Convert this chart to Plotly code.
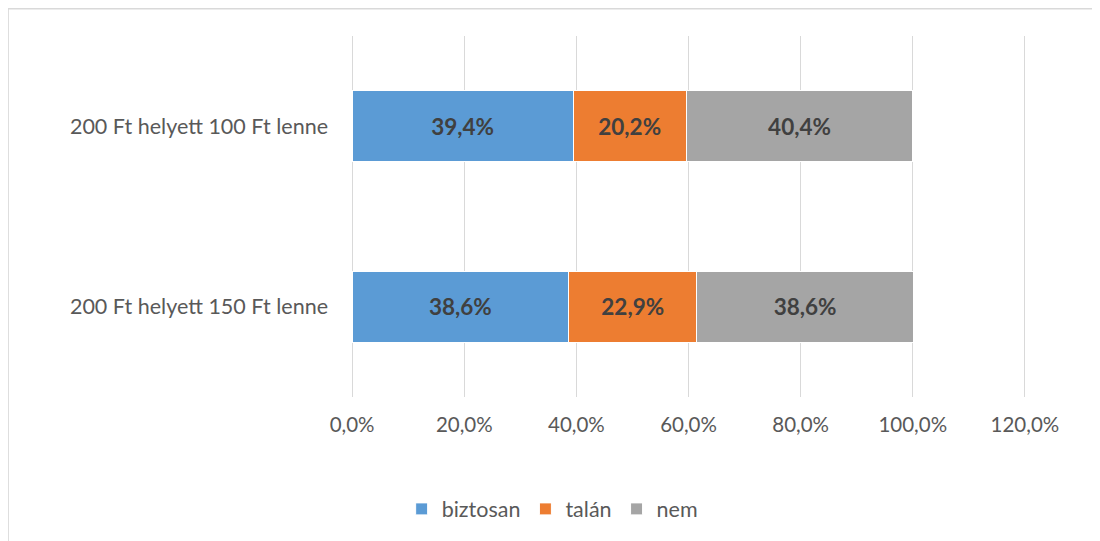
import plotly.graph_objects as go

categories = ["200 Ft helyett 150 Ft lenne", "200 Ft helyett 100 Ft lenne"]
series_names = ["biztosan", "talán", "nem"]
biztosan = [38.6, 39.4]
talan = [22.9, 20.2]
nem = [38.6, 40.4]
colors = ["#5B9BD5", "#ED7D31", "#A5A5A5"]
tick_vals = [0, 20, 40, 60, 80, 100, 120]
tick_text = ["0,0%", "20,0%", "40,0%", "60,0%", "80,0%", "100,0%", "120,0%"]

FONT = "Lato, 'Open Sans', sans-serif"

def fmt(v):
    return f"{v:.1f}".replace(".", ",") + "%"

fig = go.Figure()
for name, vals, col in zip(series_names, [biztosan, talan, nem], colors):
    fig.add_trace(go.Bar(
        y=categories, x=vals, name=name, orientation="h",
        marker=dict(color=col, line=dict(color="white", width=1)),
        text=[fmt(v) for v in vals], textposition="inside",
        insidetextanchor="middle",
        textfont=dict(family=FONT, size=22.5, color="#404040", weight="bold"),
        hoverinfo="skip",
    ))

fig.update_layout(
    barmode="stack",
    bargap=0.605,
    width=1100, height=541,
    margin=dict(l=343, r=82, t=28, b=152),
    paper_bgcolor="white", plot_bgcolor="white",
    font=dict(family=FONT, color="#595959"),
    showlegend=True,
    legend=dict(orientation="h", x=0.298, xanchor="center", xref="paper",
                y=-0.31, yanchor="middle",
                font=dict(size=21.5, color="#595959", family=FONT),
                itemwidth=30, traceorder="normal"),
    xaxis=dict(range=[-0.2, 120.2], tickvals=tick_vals, ticktext=tick_text,
               showgrid=True, gridcolor="#D9D9D9", gridwidth=1,
               zeroline=True, zerolinecolor="#D9D9D9", zerolinewidth=1,
               showline=False,
               tickfont=dict(size=20.5, color="#595959", family=FONT),
               ticklabelstandoff=13, fixedrange=True),
    yaxis=dict(showgrid=False, zeroline=False, showline=False,
               tickfont=dict(size=21.5, color="#595959", family=FONT),
               ticklabelstandoff=22, range=[-0.5, 1.5]),
    shapes=[dict(type="rect", xref="paper", yref="paper",
                 x0=-0.508, x1=1.108, y0=-0.6, y1=1.0755,
                 line=dict(color="#D9D9D9", width=1.5), layer="below")],
)

fig.write_html("out.html")
